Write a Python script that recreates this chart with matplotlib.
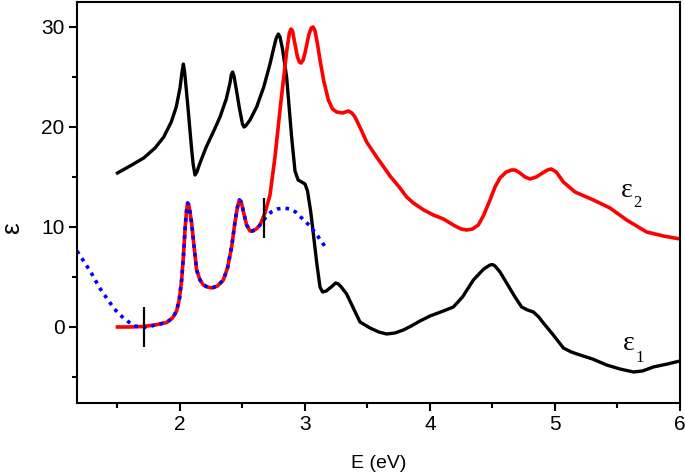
import matplotlib
matplotlib.use('Agg')
import matplotlib.pyplot as plt
from matplotlib.ticker import MultipleLocator

plt.rcParams['font.family'] = ['Liberation Sans', 'DejaVu Sans']

# eps1 measured (black)
e1_x = [1.50, 1.60, 1.71, 1.80, 1.87, 1.93, 1.97, 2.00, 2.015, 2.027, 2.037, 2.05, 2.067, 2.09,
        2.105, 2.12, 2.135, 2.16, 2.21, 2.27, 2.32, 2.37, 2.40, 2.41, 2.421, 2.432, 2.45, 2.475,
        2.50, 2.512, 2.525, 2.56, 2.613, 2.67, 2.72, 2.75, 2.77, 2.787, 2.80, 2.82, 2.853,
        2.893, 2.92, 2.945, 2.973, 3.00, 3.02, 3.045, 3.067, 3.095, 3.12, 3.14, 3.17, 3.21,
        3.245, 3.267, 3.29, 3.333, 3.39, 3.44, 3.52, 3.59, 3.653, 3.72, 3.787, 3.85, 3.92,
        4.00, 4.107, 4.187, 4.26, 4.347, 4.43, 4.48, 4.50, 4.52, 4.56, 4.613, 4.68, 4.733,
        4.78, 4.827, 4.87, 4.907, 4.98, 5.067, 5.13, 5.20, 5.30, 5.413, 5.52, 5.627, 5.70,
        5.787, 5.90, 6.00]
e1_y = [15.4, 16.1, 16.9, 17.9, 19.0, 20.5, 22.0, 23.9, 25.4, 26.3, 25.5, 23.8, 21.5, 18.2,
        16.3, 15.2, 15.5, 16.4, 18.0, 19.6, 21.0, 22.8, 24.4, 25.2, 25.5, 25.1, 23.8, 21.9,
        20.3, 20.0, 20.1, 20.7, 22.0, 24.0, 26.3, 27.9, 28.9, 29.3, 29.0, 27.8, 25.0,
        19.0, 15.6, 14.7, 14.5, 14.3, 13.6, 11.6, 9.3, 6.3, 4.0, 3.5, 3.6, 4.0,
        4.4, 4.3, 4.0, 3.3, 1.8, 0.5, -0.1, -0.5, -0.7, -0.6, -0.3, 0.1, 0.6,
        1.1, 1.6, 2.0, 3.0, 4.7, 5.8, 6.2, 6.25, 6.1, 5.5, 4.4, 3.0, 2.0,
        1.7, 1.5, 1.0, 0.4, -0.7, -2.1, -2.5, -2.8, -3.2, -3.8, -4.2, -4.5, -4.4,
        -4.0, -3.7, -3.4]

# eps2 (red)
e2_x = [1.50, 1.60, 1.706, 1.80, 1.893, 1.94, 1.973, 1.995, 2.013, 2.027, 2.04, 2.052, 2.061,
        2.07, 2.08, 2.093, 2.113, 2.133, 2.16, 2.187, 2.22, 2.253, 2.30, 2.347, 2.38, 2.413,
        2.44, 2.46, 2.475, 2.49, 2.51, 2.533, 2.56, 2.581, 2.61, 2.64, 2.68, 2.72, 2.76, 2.80,
        2.83, 2.855, 2.875, 2.888, 2.90, 2.915, 2.94, 2.955, 2.968, 2.985, 3.00, 3.03, 3.05,
        3.065, 3.08, 3.10, 3.12, 3.15, 3.187, 3.22, 3.253, 3.30, 3.347, 3.375, 3.40, 3.45,
        3.493, 3.573, 3.63, 3.68, 3.76, 3.813, 3.867, 3.95, 4.027, 4.107, 4.20, 4.25, 4.293,
        4.34, 4.387, 4.43, 4.48, 4.52, 4.56, 4.61, 4.653, 4.68, 4.72, 4.76, 4.80, 4.85, 4.90,
        4.94, 4.97, 5.01, 5.067, 5.16, 5.307, 5.44, 5.573, 5.733, 5.867, 6.00]
e2_y = [0.0, 0.0, 0.05, 0.2, 0.45, 0.9, 1.6, 2.8, 4.7, 7.0, 9.7, 11.6, 12.4,
        12.2, 11.5, 10.4, 8.0, 5.7, 4.7, 4.2, 4.0, 3.9, 4.1, 4.7, 5.9, 8.0,
        10.5, 12.0, 12.7, 12.5, 11.4, 10.2, 9.6, 9.6, 9.8, 10.2, 11.4, 13.2, 17.0, 21.7,
        25.0, 27.7, 29.4, 29.8, 29.6, 28.6, 27.0, 26.5, 26.4, 26.7, 27.4, 29.2, 29.9,
        30.0, 29.6, 28.3, 26.7, 24.6, 22.7, 21.8, 21.5, 21.4, 21.6, 21.4, 21.0, 19.7,
        18.5, 17.0, 16.0, 15.1, 13.9, 13.0, 12.4, 11.7, 11.2, 10.8, 10.1, 9.8, 9.7,
        9.8, 10.2, 11.2, 12.7, 14.0, 14.9, 15.5, 15.7, 15.7, 15.4, 15.0, 14.8, 15.0, 15.4,
        15.7, 15.8, 15.5, 14.5, 13.5, 12.7, 11.9, 10.7, 9.5, 9.1, 8.8]

# model fit (blue dotted)
fit_x = [1.176, 1.24, 1.30, 1.352, 1.413, 1.475, 1.547, 1.632, 1.733, 1.80, 1.893, 1.94,
         1.973, 1.995, 2.013, 2.027, 2.04, 2.052, 2.061, 2.07, 2.08, 2.093, 2.113, 2.133, 2.16,
         2.187, 2.22, 2.253, 2.30, 2.347, 2.38, 2.413, 2.44, 2.46, 2.475, 2.49, 2.51, 2.533,
         2.56, 2.581, 2.61, 2.64, 2.688, 2.73, 2.779, 2.83, 2.88, 2.925, 2.965, 3.04, 3.107,
         3.168]
fit_y = [7.6, 6.4, 5.2, 4.0, 2.9, 1.8, 0.9, 0.1, -0.05, 0.2, 0.45, 0.9,
         1.6, 2.8, 4.7, 7.0, 9.7, 11.6, 12.4, 12.2, 11.5, 10.4, 8.0, 5.7, 4.7,
         4.2, 4.0, 3.9, 4.1, 4.7, 5.9, 8.0, 10.5, 12.0, 12.7, 12.5, 11.4, 10.2,
         9.6, 9.6, 9.8, 10.2, 11.0, 11.5, 11.8, 11.9, 11.8, 11.5, 11.0, 10.1, 9.0,
         7.9]

# fit range markers
mark_x = [1.71, 2.67]
mark_lo = [-2.0, 8.9]
mark_hi = [2.0, 12.9]

fig = plt.figure(figsize=(6.85, 4.76), dpi=100)
ax = fig.add_axes([0.1124, 0.1534, 0.8803, 0.8424])

ax.plot(e1_x, e1_y, color='black', lw=2.4, solid_joinstyle='round')
ax.plot(e2_x, e2_y, color='red', lw=2.6, solid_joinstyle='round')
ax.plot(fit_x, fit_y, color='blue', lw=2.6, linestyle=(0, (1, 1.4)))
ax.vlines(mark_x, mark_lo, mark_hi, color='black', lw=1.6)

# curve labels: epsilon with a low subscript
serif = 'Liberation Serif'
ax.text(5.528, 13.0, 'ε', family=serif, fontsize=20, ha='left', va='baseline')
ax.text(5.628, 12.0, '2', family=serif, fontsize=12, ha='left', va='baseline')
ax.text(5.54, -2.3, 'ε', family=serif, fontsize=20, ha='left', va='baseline')
ax.text(5.64, -3.5, '1', family=serif, fontsize=12, ha='left', va='baseline')

ax.set_xlim(1.176, 6.0)
ax.set_ylim(-7.6, 32.5)
ax.xaxis.set_major_locator(MultipleLocator(1))
ax.xaxis.set_minor_locator(MultipleLocator(0.5))
ax.yaxis.set_major_locator(MultipleLocator(10))
ax.yaxis.set_minor_locator(MultipleLocator(5))
ax.tick_params(which='major', direction='out', length=6, width=1.5, labelsize=15, pad=3)
ax.tick_params(which='minor', direction='out', length=3.5, width=1.5)
for s in ax.spines.values():
    s.set_linewidth(1.5)

ax.set_xlabel('E (eV)', fontsize=14)
ax.xaxis.set_label_coords(0.5, -0.13)
ax.set_ylabel('ε', fontsize=19)
ax.yaxis.set_label_coords(-0.088, 0.436)

fig.savefig('out.png', dpi=100)
